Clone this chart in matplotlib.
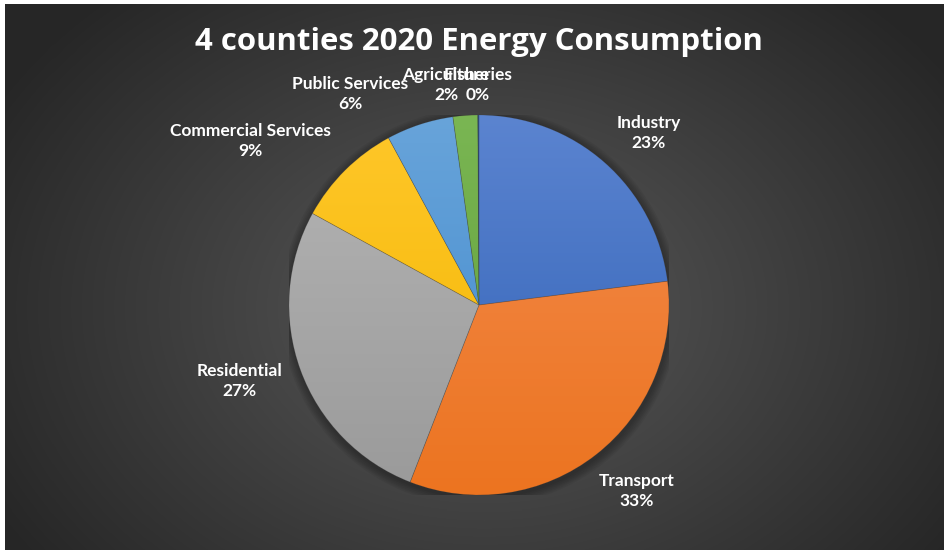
import numpy as np
import matplotlib
matplotlib.use("Agg")
import matplotlib.pyplot as plt
from matplotlib.colors import to_rgb
from matplotlib.patches import Circle

categories = ["Industry", "Transport", "Residential", "Commercial Services",
              "Public Services", "Agriculture", "Fisheries"]
values = [23.0, 32.9, 27.1, 9.1, 5.7, 2.1, 0.1]
pct_labels = ["23%", "33%", "27%", "9%", "6%", "2%", "0%"]
title = "4 counties 2020 Energy Consumption"

top_colors = ["#5b84d0", "#f38b4e", "#b5b5b5", "#ffc72a", "#68a4da", "#7ab653", "#2c4c84"]
bot_colors = ["#2f60b5", "#ec7420", "#9a9a9a", "#f2b600", "#3f88cc", "#5e9c37", "#223e6e"]
# label centres in pixels (layout)
label_px = [(649, 133), (637, 491), (239, 381), (250, 141), (350, 94), (446, 85), (478, 85)]

W, H = 944, 550
fig = plt.figure(figsize=(W / 100, H / 100), dpi=100, facecolor="white")

# background with radial gradient
bg = fig.add_axes([5 / W, -0.01, (W - 5) / W + 0.01, (H - 4) / H + 0.01])
bg.set_axis_off()
hh, ww = H - 4, W - 5
yy, xx = np.mgrid[0:hh, 0:ww]
cx, cy = 474, 300
r = np.sqrt(((xx - cx) / 560.0) ** 2 + ((yy - cy) / 420.0) ** 2)
r = np.clip(r, 0, 1)
inner = np.array(to_rgb("#5a5a5a"))
outer = np.array(to_rgb("#262626"))
img = inner[None, None, :] * (1 - r[..., None]) + outer[None, None, :] * r[..., None]
bg.imshow(img, aspect="auto", extent=[0, 1, 0, 1], origin="upper", interpolation="nearest")
bg.set_xlim(0, 1)
bg.set_ylim(0, 1)

cxp, cyp, R = 479, 305, 190
ax = fig.add_axes([(cxp - R) / W, (H - cyp - R) / H, 2 * R / W, 2 * R / H])
ax.set_axis_off()

# soft shadow
for k in range(6):
    ax.add_patch(Circle((0.004, -0.012), 1.0 + 0.008 * (6 - k), color="black",
                        alpha=0.05, lw=0, zorder=0.5))

wedges, _ = ax.pie(values, startangle=90, counterclock=False, radius=1,
                   colors=bot_colors,
                   wedgeprops=dict(linewidth=0.5, edgecolor=(0.25, 0.25, 0.25, 0.25)))

grad = np.linspace(0, 1, 256)[:, None]
for w, ct, cb in zip(wedges, top_colors, bot_colors):
    top = np.array(to_rgb(ct)); bot = np.array(to_rgb(cb))
    g = top[None, None, :] * (1 - grad[..., None]) + bot[None, None, :] * grad[..., None]
    g = np.repeat(g, 2, axis=1)
    im = ax.imshow(g, extent=[-1, 1, -1, 1], origin="upper", aspect="auto", zorder=1.5)
    im.set_clip_path(w)
    w.set_facecolor("none")
    w.set_zorder(2)

ax.set_xlim(-1, 1)
ax.set_ylim(-1, 1)

for cat, p, (px, py) in zip(categories, pct_labels, label_px):
    fig.text(px / W, 1 - py / H, f"{cat}\n{p}", ha="center", va="center",
             color="white", fontsize=12.5, fontweight="bold", family="Lato",
             linespacing=1.3)

fig.text(479 / W, 1 - 42 / H, title, ha="center", va="center", color="white",
         fontsize=22.4, fontweight="bold", family="Open Sans")

fig.savefig("out.png", dpi=100, facecolor=fig.get_facecolor())
